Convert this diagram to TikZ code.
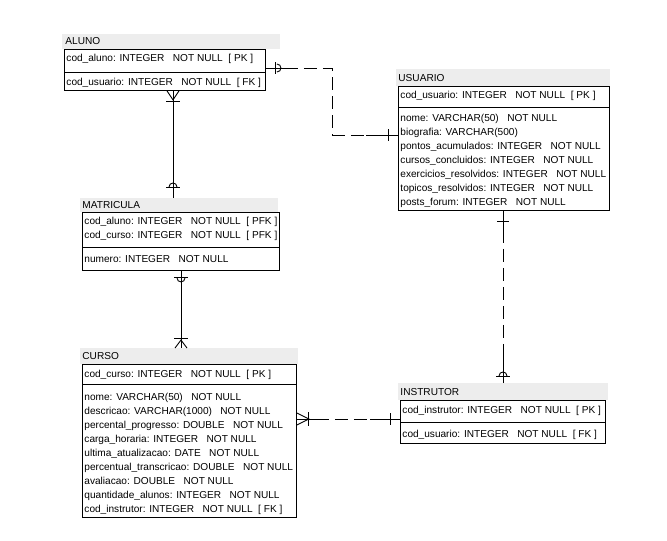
\documentclass[tikz,border=0pt]{standalone}
\usepackage{fontspec}
\setmainfont{Liberation Sans}
\usetikzlibrary{calc,positioning}
\definecolor{barra}{HTML}{EDEDED}

\begin{document}
\begin{tikzpicture}[x=1pt,y=-1pt,line width=0.9pt,
  titulo/.style={fill=barra,draw=none,anchor=north west,inner sep=0,minimum height=15},
  tabela/.style={draw,anchor=north west,inner sep=0},
  campo/.style={anchor=base west,inner sep=0,font=\fontsize{10.1}{12}\selectfont},
  tracejado/.style={dash pattern=on 13pt off 6pt}]

\useasboundingbox (0,0) rectangle (667,541);

% ALUNO
\node[titulo,minimum width=218] (alunoT) at (62,34) {};
\node[campo] (alunoN) at (65,44.6) {ALUNO};
\node[tabela,minimum width=201,minimum height=41] (aluno) at (64,49) {};
\draw (64,72) -- (265,72);
\node[campo] (aluno1) at (66,61.6) {cod\_aluno: INTEGER\ \ \ NOT NULL\ \ [ PK ]};
\node[campo] (aluno2) at (66,85.6) {cod\_usuario: INTEGER\ \ \ NOT NULL\ \ [ FK ]};

% USUARIO
\node[titulo,minimum width=214,minimum height=17] (usuarioT) at (396,69) {};
\node[campo] (usuarioN) at (398,81.6) {USUARIO};
\node[tabela,minimum width=211,minimum height=124] (usuario) at (398,86) {};
\draw (398,107) -- (609,107);
\node[campo] (usuario1) at (400,98.6) {cod\_usuario: INTEGER\ \ \ NOT NULL\ \ [ PK ]};
\node[campo] (usuario2) at (400,121.6) {nome: VARCHAR(50)\ \ \ NOT NULL};
\node[campo] (usuario3) at (400,135.6) {biografia: VARCHAR(500)};
\node[campo] (usuario4) at (400,149.6) {pontos\_acumulados: INTEGER\ \ \ NOT NULL};
\node[campo] (usuario5) at (400,163.6) {cursos\_concluidos: INTEGER\ \ \ NOT NULL};
\node[campo] (usuario6) at (400,177.6) {exercicios\_resolvidos: INTEGER\ \ \ NOT NULL};
\node[campo] (usuario7) at (400,191.6) {topicos\_resolvidos: INTEGER\ \ \ NOT NULL};
\node[campo] (usuario8) at (400,205.6) {posts\_forum: INTEGER\ \ \ NOT NULL};

% MATRICULA
\node[titulo,minimum width=198,minimum height=14] (matriculaT) at (80,198) {};
\node[campo] (matriculaN) at (82,208.6) {MATRICULA};
\node[tabela,minimum width=197,minimum height=58] (matricula) at (82,212) {};
\draw (82,247) -- (279,247);
\node[campo] (matricula1) at (84,224.6) {cod\_aluno: INTEGER\ \ \ NOT NULL\ \ [ PFK ]};
\node[campo] (matricula2) at (84,238.6) {cod\_curso: INTEGER\ \ \ NOT NULL\ \ [ PFK ]};
\node[campo] (matricula3) at (84,262.6) {numero: INTEGER\ \ \ NOT NULL};

% CURSO
\node[titulo,minimum width=218,minimum height=16] (cursoT) at (80,348) {};
\node[campo] (cursoN) at (82,359.6) {CURSO};
\node[tabela,minimum width=214,minimum height=153] (curso) at (82,364) {};
\draw (82,384) -- (296,384);
\node[campo] (curso1) at (84,377.1) {cod\_curso: INTEGER\ \ \ NOT NULL\ \ [ PK ]};
\node[campo] (curso2) at (84,400.1) {nome: VARCHAR(50)\ \ \ NOT NULL};
\node[campo] (curso3) at (84,414.1) {descricao: VARCHAR(1000)\ \ \ NOT NULL};
\node[campo] (curso4) at (84,428.1) {percental\_progresso: DOUBLE\ \ \ NOT NULL};
\node[campo] (curso5) at (84,442.1) {carga\_horaria: INTEGER\ \ \ NOT NULL};
\node[campo] (curso6) at (84,456.1) {ultima\_atualizacao: DATE\ \ \ NOT NULL};
\node[campo] (curso7) at (84,470.1) {percentual\_transcricao: DOUBLE\ \ \ NOT NULL};
\node[campo] (curso8) at (84,484.1) {avaliacao: DOUBLE\ \ \ NOT NULL};
\node[campo] (curso9) at (84,498.1) {quantidade\_alunos: INTEGER\ \ \ NOT NULL};
\node[campo] (curso10) at (84,512.1) {cod\_instrutor: INTEGER\ \ \ NOT NULL\ \ [ FK ]};

% INSTRUTOR
\node[titulo,minimum width=210,minimum height=17] (instrutorT) at (398,383) {};
\node[campo] (instrutorN) at (400,395.6) {INSTRUTOR};
\node[tabela,minimum width=205,minimum height=43] (instrutor) at (400,400) {};
\draw (400,422) -- (605,422);
\node[campo] (instrutor1) at (402,413.1) {cod\_instrutor: INTEGER\ \ \ NOT NULL\ \ [ PK ]};
\node[campo] (instrutor2) at (402,437.1) {cod\_usuario: INTEGER\ \ \ NOT NULL\ \ [ FK ]};

% ALUNO -- USUARIO
\coordinate (c1a) at ($(aluno.north east)+(0,19)$);
\coordinate (c1b) at ($(usuario.north west)+(0,49)$);
\draw[tracejado] (c1a) -- ++(67,0) |- (c1b);
\draw (c1a) -- ++(28,0);
\draw (c1b) -- ++(-32,0);
\draw ($(c1a)+(10,-6)$) -- ++(0,12);
\draw ($(c1a)+(11,-4)$) .. controls ($(c1a)+(16.3,-4)$) and ($(c1a)+(16.3,4)$) .. ($(c1a)+(11,4)$);
\draw ($(c1b)+(-10,-6)$) -- ++(0,12);

% ALUNO -- MATRICULA
\coordinate (c2a) at ($(aluno.south west)+(109,0)$);
\coordinate (c2b) at (c2a |- matriculaT.north);
\draw (c2a) -- (c2b);
\draw ($(c2a)+(-6,0)$) -- ($(c2a)+(0,9)$) -- ($(c2a)+(6,0)$);
\draw ($(c2a)+(-7,11)$) -- ++(14,0);
\draw ($(c2b)+(-7,-11)$) -- ++(14,0);
\draw ($(c2b)+(-4,-11)$) .. controls ($(c2b)+(-4,-16.3)$) and ($(c2b)+(4,-16.3)$) .. ($(c2b)+(4,-11)$);

% MATRICULA -- CURSO
\coordinate (c3a) at ($(matricula.south west)+(99,0)$);
\coordinate (c3b) at (c3a |- cursoT.north);
\draw (c3a) -- (c3b);
\draw ($(c3a)+(-7,7)$) -- ++(14,0);
\draw ($(c3a)+(-4,7)$) .. controls ($(c3a)+(-4,12.3)$) and ($(c3a)+(4,12.3)$) .. ($(c3a)+(4,7)$);
\draw ($(c3b)+(-7,-10)$) -- ++(14,0);
\draw ($(c3b)+(-6,0)$) -- ($(c3b)+(0,-8)$) -- ($(c3b)+(6,0)$);

% CURSO -- INSTRUTOR
\coordinate (c4a) at ($(curso.north east)+(0,55)$);
\coordinate (c4b) at (c4a -| instrutor.west);
\draw[tracejado] (c4a) -- (c4b);
\draw (c4a) -- ++(24,0);
\draw (c4b) -- ++(-30,0);
\draw ($(c4a)+(0,-6)$) -- ($(c4a)+(12,0)$) -- ($(c4a)+(0,6)$);
\draw ($(c4a)+(12,-7)$) -- ++(0,14);
\draw ($(c4b)+(-10,-6)$) -- ++(0,12);

% USUARIO -- INSTRUTOR
\coordinate (c5a) at ($(usuario.south west)+(105,0)$);
\coordinate (c5b) at (c5a |- instrutorT.north);
\draw[tracejado] (c5a) -- (c5b);
\draw (c5a) -- ++(0,25);
\draw (c5b) -- ++(0,-28);
\draw ($(c5a)+(-6,11)$) -- ++(12,0);
\draw ($(c5b)+(-7,-7)$) -- ++(14,0);
\draw ($(c5b)+(-4,-7)$) .. controls ($(c5b)+(-4,-12.3)$) and ($(c5b)+(4,-12.3)$) .. ($(c5b)+(4,-7)$);

\end{tikzpicture}
\end{document}
